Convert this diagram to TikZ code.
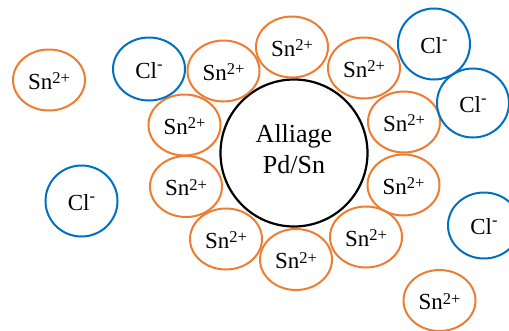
\documentclass[tikz,border=0pt]{standalone}
\usepackage{fontspec}
\setmainfont{Liberation Serif}
\usetikzlibrary{shapes.geometric}
\definecolor{snorange}{HTML}{ED7D31}
\definecolor{clblue}{HTML}{0070C0}
% ion labels with raised charges
\newcommand\snion{Sn\raisebox{5.5pt}{\fontsize{16.5}{16.5}\selectfont 2+}}
\newcommand\clion{Cl\raisebox{9pt}{\fontsize{16.5}{16.5}\selectfont -}}

\begin{document}
\begin{tikzpicture}[x=1pt,y=-1pt,
  ion/.style={ellipse, draw, line width=2pt, inner sep=0pt,
    text height=18.8pt, text depth=0pt,
    text=black, font=\fontsize{23}{27}\selectfont},
  tin/.style={ion, draw=snorange, minimum width=72pt, minimum height=61pt},
  chloride/.style={ion, draw=clblue, minimum width=72pt, minimum height=#1},
  alloy/.style={circle, draw=black, line width=2.2pt, minimum size=147pt, inner sep=0pt},
  alloytext/.style={align=center, inner sep=0pt, font=\fontsize{26}{31}\selectfont}]
\useasboundingbox (0,0) rectangle (509,330);

% central alloy particle
\node[alloy] (alloy) at (294,153) {};
\node[alloytext] (alloylabel) at ([yshift=4.3pt]alloy.center) {Alliage\\Pd/Sn};

% Sn(2+) shell around the particle
\node[tin] (s2)  at (223.5,71)  {\snion};
\node[tin] (s3)  at (292,47)    {\snion};
\node[tin] (s4)  at (364,68)    {\snion};
\node[tin] (s5)  at (404,122)   {\snion};
\node[tin] (s6)  at (403.5,185) {\snion};
\node[tin] (s7)  at (366,237)   {\snion};
\node[tin] (s8)  at (296,259.5) {\snion};
\node[tin] (s9)  at (226,239)   {\snion};
\node[tin] (s10) at (186,186.5) {\snion};
\node[tin] (s11) at (184.5,125) {\snion};

% free Sn(2+) ions
\node[tin] (s1)  at (49,80)     {\snion};
\node[tin] (s12) at (439.5,300.5) {\snion};

% chloride ions
\node[chloride=63pt] (c1) at (149,69)    {\clion};
\node[chloride=71pt] (c2) at (434,44)    {\clion};
\node[chloride=69pt] (c3) at (473,103)   {\clion};
\node[chloride=66pt] (c4) at (484,225.5) {\clion};
\node[chloride=71pt] (c5) at (81.5,201)  {\clion};
\end{tikzpicture}
\end{document}
